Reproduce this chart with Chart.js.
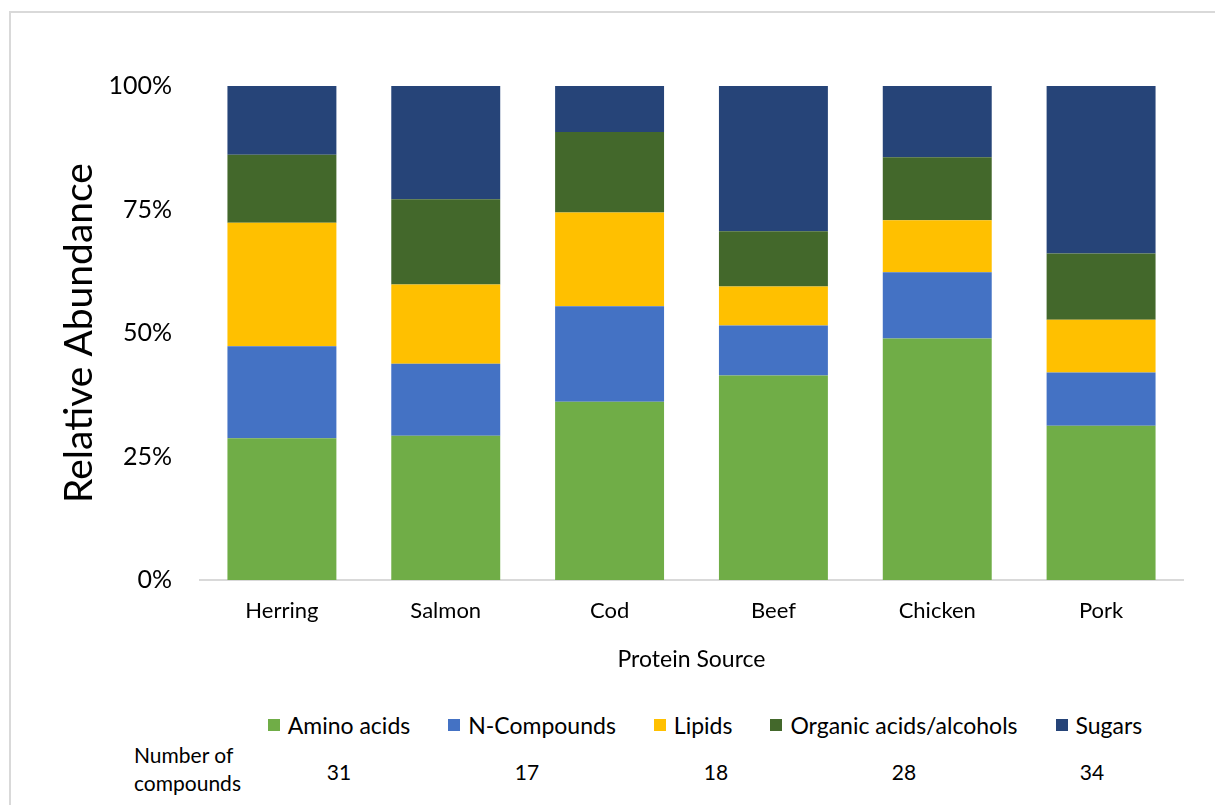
<!DOCTYPE html>
<html>
<head>
<meta charset="utf-8">
<title>Relative Abundance by Protein Source</title>
<script src="https://cdn.jsdelivr.net/npm/chart.js@4/dist/chart.umd.min.js"></script>
<style>
  body { margin: 0; background: #fff; font-family: Lato, sans-serif; color: #000; }
  #wrap { position: relative; width: 1215px; height: 805px; overflow: hidden; }
  #frame { position: absolute; left: 9px; top: 11px; width: 1300px; height: 900px;
           border-left: 2px solid #d9d9d9; border-top: 2px solid #d9d9d9; }
  #chartBox { position: absolute; left: 0; top: 0; width: 1215px; height: 673px; }
  #legend { position: absolute; left: 0; top: 710px; width: 1215px; height: 30px;
            display: flex; justify-content: center; padding-left: 195px; box-sizing: border-box;
            font-size: 23px; line-height: 30px; }
  .item { display: flex; align-items: center; margin-right: 38px; white-space: nowrap; }
  .item:last-child { margin-right: 0; }
  .swatch { width: 12px; height: 12px; margin-right: 8px; }
  #countLabel { position: absolute; left: 134px; top: 741px; font-size: 21px; line-height: 28px; }
  .count { position: absolute; top: 757px; width: 60px; margin-left: -30px; text-align: center;
           font-size: 21px; line-height: 30px; }
</style>
</head>
<body>
<div id="wrap">
  <div id="frame"></div>
  <div id="chartBox"><canvas id="myChart"></canvas></div>
  <div id="legend"></div>
  <div id="countLabel">Number of<br>compounds</div>
  <div id="counts"></div>
</div>
<script>
var sources = ["Herring", "Salmon", "Cod", "Beef", "Chicken", "Pork"];
var groups = ["Amino acids", "N-Compounds", "Lipids", "Organic acids/alcohols", "Sugars"];
var colors = ["#70ad47", "#4472c4", "#ffc000", "#43682b", "#264478"];
var compoundCounts = [31, 17, 18, 28, 34];

// percent of total abundance per protein source
var aminoAcids = [28.7, 29.2, 36.1, 41.4, 48.9, 31.2];
var nCompounds = [18.6, 14.6, 19.3, 10.1, 13.4, 10.8];
var lipids = [25.0, 16.0, 19.0, 7.9, 10.5, 10.7];
var organicAcids = [13.8, 17.3, 16.3, 11.2, 12.8, 13.4];
var sugars = [13.9, 22.9, 9.3, 29.4, 14.4, 33.9];

var yTicks = [0, 25, 50, 75, 100];

var series = [aminoAcids, nCompounds, lipids, organicAcids, sugars];
var datasets = groups.map(function (name, i) {
  return {
    label: name,
    data: series[i],
    backgroundColor: colors[i],
    borderWidth: 0,
    categoryPercentage: 1,
    barPercentage: 0.665
  };
});

// legend + compound count row
var legend = document.getElementById("legend");
groups.forEach(function (name, i) {
  var item = document.createElement("div");
  item.className = "item";
  item.innerHTML = '<span class="swatch" style="background:' + colors[i] + '"></span>' + name;
  legend.appendChild(item);
});
var countX = [339, 527, 716, 904, 1092];
var counts = document.getElementById("counts");
compoundCounts.forEach(function (n, i) {
  var d = document.createElement("div");
  d.className = "count";
  d.style.left = countX[i] + "px";
  d.textContent = n;
  counts.appendChild(d);
});

var ctx = document.getElementById("myChart").getContext("2d");
var myChart = new Chart(ctx, {
  type: "bar",
  data: { labels: sources, datasets: datasets },
  options: {
    responsive: true,
    maintainAspectRatio: false,
    animation: false,
    layout: { padding: { top: 86, right: 32, left: 56, bottom: 0 } },
    plugins: {
      legend: { display: false },
      tooltip: { enabled: false }
    },
    scales: {
      x: {
        stacked: true,
        grid: { display: false },
        border: { display: true, color: "#d9d9d9", width: 2 },
        ticks: { color: "#000", padding: 10, font: { family: "Lato", size: 22 } },
        title: {
          display: true,
          text: "Protein Source",
          color: "#000",
          padding: { top: 11, bottom: 0 },
          font: { family: "Lato", size: 23 }
        }
      },
      y: {
        stacked: true,
        min: 0,
        max: 100,
        afterBuildTicks: function (scale) {
          scale.ticks = yTicks.map(function (v) { return { value: v }; });
        },
        afterFit: function (scale) { scale.width = 144; },
        grid: { display: false, drawTicks: false },
        border: { display: false },
        ticks: {
          color: "#000",
          padding: 28,
          font: { family: "Lato", size: 25 },
          callback: function (v) { return v + "%"; }
        },
        title: {
          display: true,
          text: "Relative Abundance",
          color: "#000",
          padding: { top: 0, bottom: 0 },
          font: { family: "Lato", size: 39 }
        }
      }
    }
  }
});
</script>
</body>
</html>
